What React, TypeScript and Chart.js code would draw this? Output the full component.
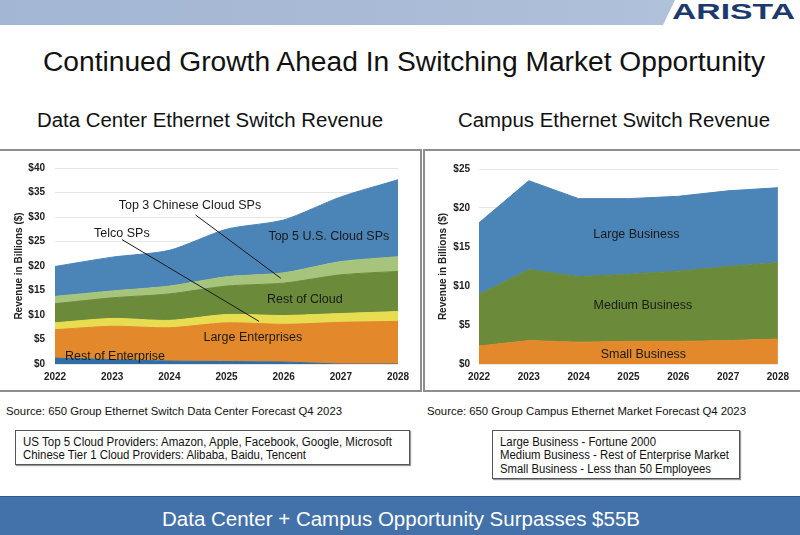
import React, { useEffect, useLayoutEffect, useRef } from "react";
import { Chart, registerables } from "chart.js";

Chart.register(...registerables);

// ---------- DATA ----------
const years = ["2022", "2023", "2024", "2025", "2026", "2027", "2028"];

// Data Center Ethernet Switch Revenue ($B), stacked bottom -> top
const dcRestOfEnterprise = [1.2, 0.9, 0.6, 0.5, 0.4, 0.0, 0.0];
const dcLargeEnterprises = [5.8, 6.8, 6.8, 7.9, 7.7, 8.5, 8.7];
const dcTelcoSPs = [1.4, 1.6, 1.5, 1.7, 1.8, 1.8, 2.0];
const dcRestOfCloud = [3.9, 4.2, 5.4, 5.8, 6.6, 7.9, 8.2];
const dcTop3Chinese = [1.5, 1.4, 1.6, 1.9, 2.1, 2.7, 3.0];
const dcTop5US = [6.1, 6.9, 7.3, 9.7, 10.8, 13.2, 15.7];

// Campus Ethernet Switch Revenue ($B), stacked bottom -> top
const campusSmall = [2.3, 3.0, 2.8, 2.9, 2.9, 3.0, 3.2];
const campusMedium = [6.6, 9.1, 8.4, 8.6, 9.0, 9.5, 9.8];
const campusLarge = [9.2, 11.4, 10.0, 9.7, 9.6, 9.7, 9.6];

const dcTicks = [0, 5, 10, 15, 20, 25, 30, 35, 40];
const campusTicks = [0, 5, 10, 15, 20, 25];

// in-chart labels: [text, x (year index), y (value)]
const dcLabels: [string, number, number][] = [
  ["Top 3 Chinese Cloud SPs", 2.36, 32.4],
  ["Telco SPs", 1.17, 26.7],
  ["Top 5 U.S. Cloud SPs", 4.79, 26.0],
  ["Rest of Cloud", 4.37, 13.1],
  ["Large Enterprises", 3.46, 5.4],
  ["Rest of Enterprise", 1.05, 1.6],
];
// leader lines: [x1, y1, x2, y2] in data coordinates
const dcLeaders: [number, number, number, number][] = [
  [2.46, 30.4, 3.95, 17.5],
  [1.17, 25.4, 3.57, 8.7],
];
const campusLabels: [string, number, number][] = [
  ["Large Business", 3.16, 16.6],
  ["Medium Business", 3.29, 7.55],
  ["Small Business", 3.3, 1.24],
];

const FONT = "'Liberation Sans', Arial, Helvetica, sans-serif";

const C_BLUE = "#4b84b7";
const C_LGREEN = "#a7c47c";
const C_OLIVE = "#6b8a3a";
const C_YELLOW = "#e8dc50";
const C_ORANGE = "#e3892c";
const C_DBLUE = "#2f6ea6";

function labelPlugin(labels: [string, number, number][], leaders: [number, number, number, number][]) {
  return {
    id: "areaLabels",
    afterDatasetsDraw(chart: any) {
      const { ctx, scales } = chart;
      const xs = scales.x;
      const ys = scales.y;
      ctx.save();
      ctx.strokeStyle = "#1a1a1a";
      ctx.lineWidth = 1;
      for (const [x1, y1, x2, y2] of leaders) {
        ctx.beginPath();
        ctx.moveTo(xs.getPixelForValue(x1), ys.getPixelForValue(y1));
        ctx.lineTo(xs.getPixelForValue(x2), ys.getPixelForValue(y2));
        ctx.stroke();
      }
      ctx.fillStyle = "#1a1a1a";
      ctx.font = `12.5px ${FONT}`;
      ctx.textAlign = "center";
      ctx.textBaseline = "middle";
      for (const [t, x, y] of labels) {
        ctx.fillText(t, xs.getPixelForValue(x), ys.getPixelForValue(y));
      }
      ctx.restore();
    },
  };
}

function makeDataset(label: string, data: number[], color: string, first: boolean, tension: number) {
  return {
    label,
    data,
    backgroundColor: color,
    borderColor: color,
    borderWidth: 1,
    pointRadius: 0,
    fill: first ? "origin" : "-1",
    tension,
  };
}

function makeOptions(max: number, ticks: number[], yPadTick: number, pad: any) {
  return {
    animation: false,
    responsive: false,
    devicePixelRatio: 1,
    layout: { padding: pad },
    plugins: { legend: { display: false }, tooltip: { enabled: false } },
    scales: {
      x: {
        offset: false,
        grid: { display: false, drawTicks: false },
        border: { display: false },
        ticks: {
          color: "#222",
          font: { family: FONT, size: 10, weight: "bold" },
          padding: 7,
          maxRotation: 0,
          autoSkip: false,
        },
        afterFit: (s: any) => {
          s.height = 24;
        },
      },
      y: {
        stacked: true,
        min: 0,
        max,
        afterBuildTicks: (s: any) => {
          s.ticks = ticks.map((v) => ({ value: v }));
        },
        grid: { color: "#e6e6e6", drawTicks: false, lineWidth: 1 },
        border: { display: false },
        ticks: {
          color: "#222",
          font: { family: FONT, size: 10, weight: "bold" },
          padding: yPadTick,
          callback: (v: any) => "$" + v,
        },
        title: {
          display: true,
          text: "Revenue in Billions ($)",
          color: "#222",
          font: { family: FONT, size: 10, weight: "bold" },
          padding: { top: 11, bottom: 0 },
        },
        afterFit: (s: any) => {
          s.width = 53;
        },
      },
    },
  };
}

function DCChart() {
  const ref = useRef<HTMLCanvasElement>(null);
  useEffect(() => {
    const t = 0.25;
    const chart = new Chart(ref.current!, {
      type: "line",
      data: {
        labels: years,
        datasets: [
          makeDataset("Rest of Enterprise", dcRestOfEnterprise, C_DBLUE, true, t),
          makeDataset("Large Enterprises", dcLargeEnterprises, C_ORANGE, false, t),
          makeDataset("Telco SPs", dcTelcoSPs, C_YELLOW, false, t),
          makeDataset("Rest of Cloud", dcRestOfCloud, C_OLIVE, false, t),
          makeDataset("Top 3 Chinese Cloud SPs", dcTop3Chinese, C_LGREEN, false, t),
          makeDataset("Top 5 U.S. Cloud SPs", dcTop5US, C_BLUE, false, t),
        ] as any,
      },
      options: makeOptions(40, dcTicks, 10, { top: 15, right: 20, left: 0, bottom: 0 }) as any,
      plugins: [labelPlugin(dcLabels, dcLeaders)],
    });
    return () => chart.destroy();
  }, []);
  return <canvas ref={ref} width={416} height={236} style={{ width: 416, height: 236, display: "block" }} />;
}

function CampusChart() {
  const ref = useRef<HTMLCanvasElement>(null);
  useEffect(() => {
    const chart = new Chart(ref.current!, {
      type: "line",
      data: {
        labels: years,
        datasets: [
          makeDataset("Small Business", campusSmall, C_ORANGE, true, 0),
          makeDataset("Medium Business", campusMedium, C_OLIVE, false, 0),
          makeDataset("Large Business", campusLarge, C_BLUE, false, 0),
        ] as any,
      },
      options: makeOptions(25, campusTicks, 9, { top: 17, right: 17, left: 0, bottom: 0 }) as any,
      plugins: [labelPlugin(campusLabels, [])],
    });
    return () => chart.destroy();
  }, []);
  return <canvas ref={ref} width={370} height={236} style={{ width: 370, height: 236, display: "block" }} />;
}

type TxtProps = {
  x: number;
  yc: number;
  w: number;
  size: number;
  weight?: string | number;
  color?: string;
  text: string;
};

function Txt({ x, yc, w, size, weight = "normal", color = "#111", text }: TxtProps) {
  const ref = useRef<HTMLSpanElement>(null);
  useLayoutEffect(() => {
    const el = ref.current!;
    el.style.transform = "none";
    const nat = el.getBoundingClientRect().width;
    if (nat > 0) el.style.transform = `scaleX(${w / nat})`;
  }, [w, text]);
  return (
    <span
      ref={ref}
      style={{
        position: "absolute",
        left: x,
        top: yc - size / 2,
        fontFamily: FONT,
        fontSize: size,
        lineHeight: `${size}px`,
        fontWeight: weight as any,
        color,
        whiteSpace: "nowrap",
        transformOrigin: "0 0",
        display: "inline-block",
      }}
    >
      {text}
    </span>
  );
}

export default function App() {
  return (
    <div
      style={{
        position: "fixed",
        left: 0,
        top: 0,
        width: 800,
        height: 535,
        overflow: "hidden",
        background: "#fff",
      }}
    >
      {/* top banner */}
      <div
        style={{
          position: "absolute",
          left: 0,
          top: 0,
          width: 680,
          height: 25,
          background: "linear-gradient(90deg, #a3b6d3 0%, #a9bbd6 60%, #b0c1da 100%)",
          clipPath: "polygon(0 0, 675px 0, 663px 25px, 0 25px)",
        }}
      />
      <Txt x={672} yc={12} w={123} size={22} weight="bold" color="#1c3a6b" text="ARISTA" />

      <Txt x={43} yc={62} w={722} size={27} text="Continued Growth Ahead In Switching Market Opportunity" />
      <Txt x={37} yc={120} w={346} size={20} text="Data Center Ethernet Switch Revenue" />
      <Txt x={458} yc={120} w={312} size={20} text="Campus Ethernet Switch Revenue" />

      {/* chart frames */}
      <div
        style={{
          position: "absolute",
          left: -2,
          top: 149,
          width: 420,
          height: 239,
          border: "2px solid #8e8e8e",
        }}
      />
      <div
        style={{
          position: "absolute",
          left: 423,
          top: 149,
          width: 385,
          height: 239,
          border: "2px solid #8e8e8e",
        }}
      />
      <div style={{ position: "absolute", left: 2, top: 152 }}>
        <DCChart />
      </div>
      <div style={{ position: "absolute", left: 426, top: 152 }}>
        <CampusChart />
      </div>

      <Txt x={6} yc={411} w={336} size={11} text="Source: 650 Group Ethernet Switch Data Center Forecast Q4 2023" />
      <Txt x={427} yc={411} w={319} size={11} text="Source: 650 Group Campus Ethernet Market Forecast Q4 2023" />

      {/* note boxes */}
      <div
        style={{
          position: "absolute",
          left: 15,
          top: 430,
          width: 393,
          height: 33,
          border: "1px solid #555",
          boxShadow: "1px 1px 1px #999",
        }}
      />
      <Txt x={23} yc={442} w={369} size={12} text="US Top 5 Cloud Providers: Amazon, Apple, Facebook, Google, Microsoft" />
      <Txt x={23} yc={455} w={283} size={12} text="Chinese Tier 1 Cloud Providers: Alibaba, Baidu, Tencent" />

      <div
        style={{
          position: "absolute",
          left: 492,
          top: 430,
          width: 246,
          height: 47,
          border: "1px solid #555",
          boxShadow: "1px 1px 1px #999",
        }}
      />
      <Txt x={500} yc={442} w={156} size={12} text="Large Business - Fortune 2000" />
      <Txt x={500} yc={455} w={229} size={12} text="Medium Business - Rest of Enterprise Market" />
      <Txt x={500} yc={469} w={211} size={12} text="Small Business - Less than 50 Employees" />

      {/* bottom banner */}
      <div
        style={{
          position: "absolute",
          left: 0,
          top: 496,
          width: 800,
          height: 39,
          background: "#4371a9",
          borderTop: "1px solid #2f5a8e",
        }}
      />
      <Txt x={162} yc={519} w={478} size={20} color="#ffffff" text="Data Center + Campus Opportunity Surpasses $55B" />
    </div>
  );
}
